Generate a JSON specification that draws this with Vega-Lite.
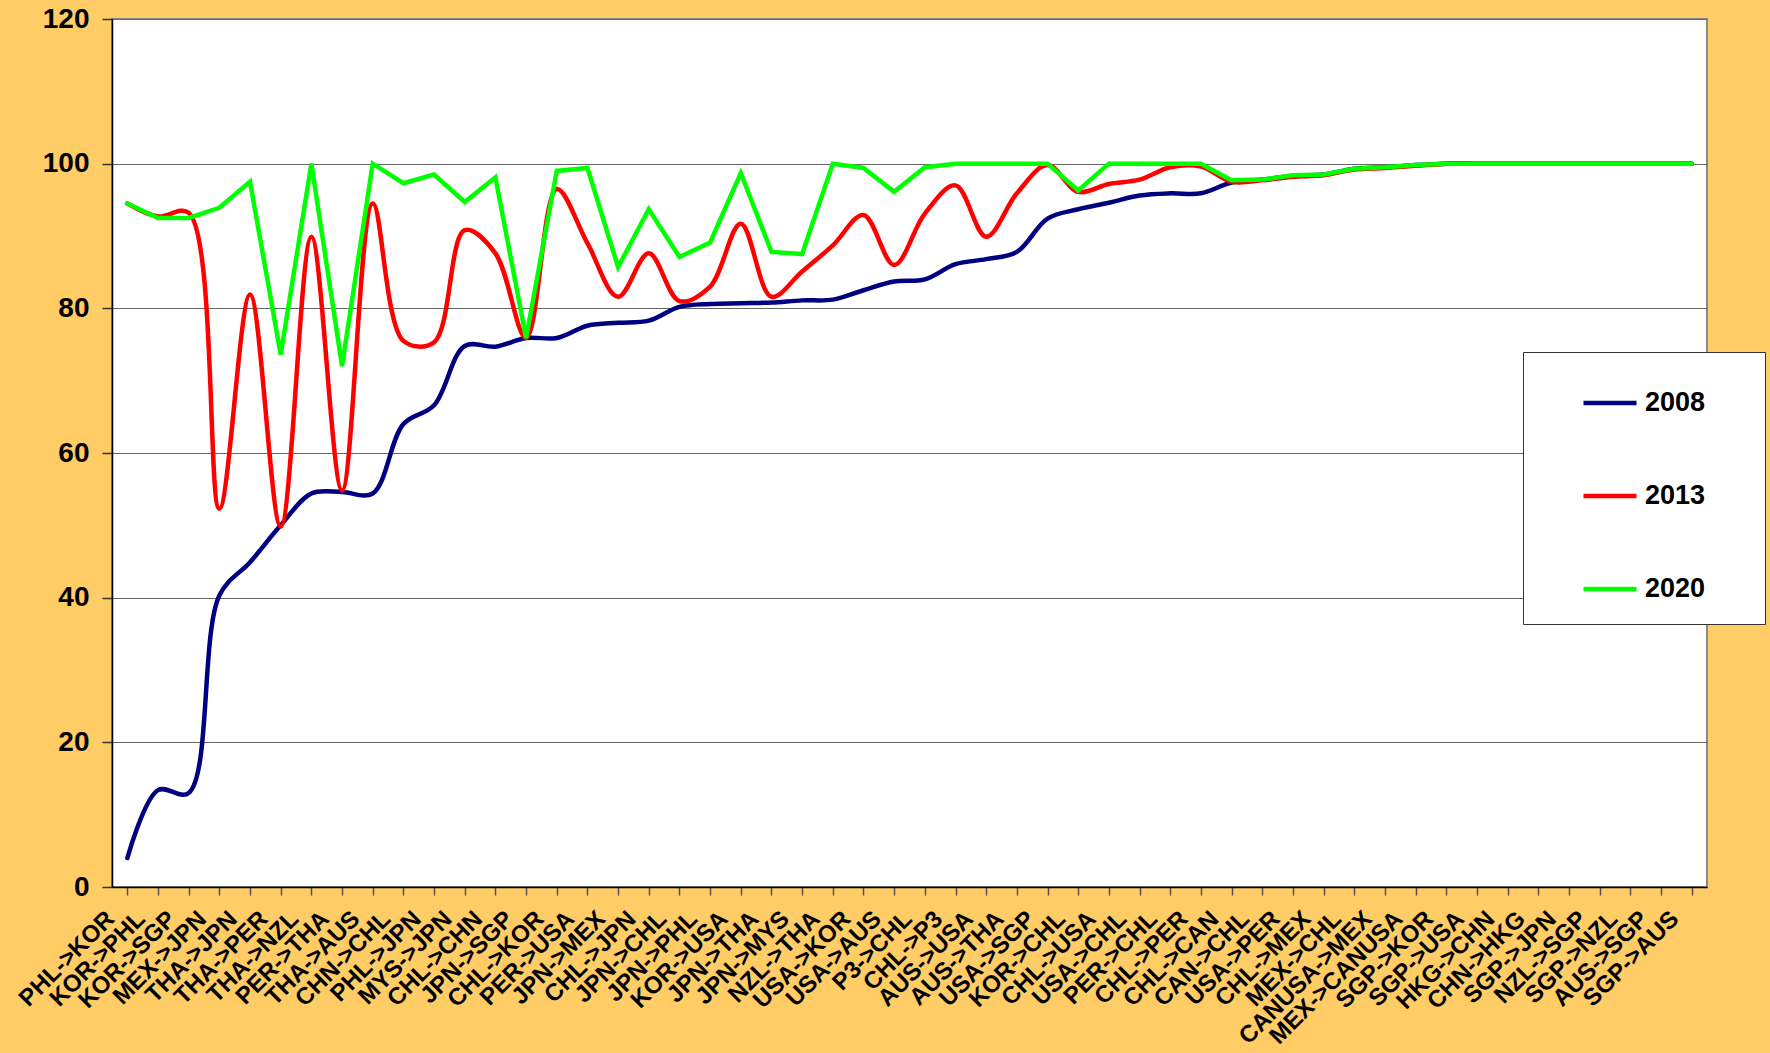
{
  "$schema": "https://vega.github.io/schema/vega-lite/v6.json",
  "width": 1595,
  "height": 868,
  "autosize": {"type": "none"},
  "padding": {"left": 112, "top": 19, "right": 63, "bottom": 166},
  "background": "#FFCC66",
  "config": {
    "view": {"fill": "#FFFFFF", "stroke": "#888888", "strokeWidth": 2},
    "font": "Liberation Sans"
  },
  "data": {
    "values": [
      {"c": "PHL->KOR", "2008": 4.0, "2013": 94.5, "2020": 94.5},
      {"c": "KOR->PHL", "2008": 13.4, "2013": 92.7, "2020": 92.5},
      {"c": "KOR->SGP", "2008": 13.0, "2013": 93.2, "2020": 92.5},
      {"c": "MEX->JPN", "2008": 40.3, "2013": 52.3, "2020": 93.9},
      {"c": "THA->JPN", "2008": 44.9, "2013": 81.9, "2020": 97.5},
      {"c": "THA->PER", "2008": 50.0, "2013": 49.8, "2020": 73.6},
      {"c": "THA->NZL", "2008": 54.4, "2013": 89.9, "2020": 100},
      {"c": "PER->THA", "2008": 54.6, "2013": 54.8, "2020": 72.0},
      {"c": "THA->AUS", "2008": 54.4, "2013": 94.5, "2020": 100},
      {"c": "CHN->CHL", "2008": 64.0, "2013": 75.5, "2020": 97.3},
      {"c": "PHL->JPN", "2008": 66.6, "2013": 75.3, "2020": 98.5},
      {"c": "MYS->JPN", "2008": 74.8, "2013": 90.8, "2020": 94.7},
      {"c": "CHL->CHN", "2008": 74.7, "2013": 87.6, "2020": 98.1},
      {"c": "JPN->SGP", "2008": 75.9, "2013": 75.9, "2020": 75.9},
      {"c": "CHL->KOR", "2008": 75.9, "2013": 96.5, "2020": 99.0},
      {"c": "PER->USA", "2008": 77.6, "2013": 89.0, "2020": 99.4},
      {"c": "JPN->MEX", "2008": 78.0, "2013": 81.6, "2020": 85.7},
      {"c": "CHL->JPN", "2008": 78.3, "2013": 87.6, "2020": 93.7},
      {"c": "JPN->CHL", "2008": 80.2, "2013": 81.0, "2020": 87.1},
      {"c": "JPN->PHL", "2008": 80.6, "2013": 83.0, "2020": 89.1},
      {"c": "KOR->USA", "2008": 80.7, "2013": 91.7, "2020": 98.7},
      {"c": "JPN->THA", "2008": 80.8, "2013": 81.6, "2020": 87.8},
      {"c": "JPN->MYS", "2008": 81.1, "2013": 85.1, "2020": 87.5},
      {"c": "NZL->THA", "2008": 81.2, "2013": 88.7, "2020": 100},
      {"c": "USA->KOR", "2008": 82.5, "2013": 92.9, "2020": 99.4},
      {"c": "USA->AUS", "2008": 83.7, "2013": 86.0, "2020": 96.1},
      {"c": "P3->CHL", "2008": 84.0, "2013": 93.1, "2020": 99.5},
      {"c": "CHL->P3", "2008": 86.1, "2013": 97.0, "2020": 100},
      {"c": "AUS->USA", "2008": 86.8, "2013": 89.9, "2020": 100},
      {"c": "AUS->THA", "2008": 87.8, "2013": 95.9, "2020": 100},
      {"c": "USA->SGP", "2008": 92.4, "2013": 99.8, "2020": 100},
      {"c": "KOR->CHL", "2008": 93.7, "2013": 96.1, "2020": 96.3},
      {"c": "CHL->USA", "2008": 94.6, "2013": 97.2, "2020": 100},
      {"c": "USA->CHL", "2008": 95.6, "2013": 97.8, "2020": 100},
      {"c": "PER->CHL", "2008": 95.9, "2013": 99.5, "2020": 100},
      {"c": "CHL->PER", "2008": 95.9, "2013": 99.6, "2020": 100},
      {"c": "CHL->CAN", "2008": 97.4, "2013": 97.5, "2020": 97.7},
      {"c": "CAN->CHL", "2008": 97.8, "2013": 97.7, "2020": 97.8},
      {"c": "USA->PER", "2008": 98.3, "2013": 98.2, "2020": 98.4},
      {"c": "CHL->MEX", "2008": 98.5, "2013": 98.4, "2020": 98.5},
      {"c": "MEX->CHL", "2008": 99.3, "2013": 99.2, "2020": 99.3},
      {"c": "CANUSA->MEX", "2008": 99.5, "2013": 99.4, "2020": 99.5},
      {"c": "MEX->CANUSA", "2008": 99.8, "2013": 99.7, "2020": 99.8},
      {"c": "SGP->KOR", "2008": 100, "2013": 100, "2020": 100},
      {"c": "SGP->USA", "2008": 100, "2013": 100, "2020": 100},
      {"c": "HKG->CHN", "2008": 100, "2013": 100, "2020": 100},
      {"c": "CHN->HKG", "2008": 100, "2013": 100, "2020": 100},
      {"c": "SGP->JPN", "2008": 100, "2013": 100, "2020": 100},
      {"c": "NZL->SGP", "2008": 100, "2013": 100, "2020": 100},
      {"c": "SGP->NZL", "2008": 100, "2013": 100, "2020": 100},
      {"c": "AUS->SGP", "2008": 100, "2013": 100, "2020": 100},
      {"c": "SGP->AUS", "2008": 100, "2013": 100, "2020": 100}
    ]
  },
  "transform": [
    {"fold": ["2008", "2013", "2020"], "as": ["year", "value"]}
  ],
  "encoding": {
    "x": {
      "field": "c",
      "type": "nominal",
      "sort": null,
      "scale": {"paddingInner": 0, "paddingOuter": 0},
      "axis": {
        "title": null,
        "bandPosition": 0,
        "domainColor": "#000000",
        "domainWidth": 1.5,
        "tickColor": "#555555",
        "tickSize": 8,
        "tickWidth": 1.5,
        "labelAngle": -45,
        "labelAlign": "right",
        "labelBaseline": "middle",
        "labelFont": "Liberation Sans",
        "labelFontSize": 24,
        "labelFontWeight": "bold",
        "labelColor": "#000000",
        "labelPadding": 20,
        "labelOffset": -17,
        "labelOverlap": false,
        "labelBound": false,
        "labelLimit": 400
      }
    },
    "y": {
      "field": "value",
      "type": "quantitative",
      "scale": {"domain": [0, 120], "nice": false, "zero": true},
      "axis": {
        "title": null,
        "values": [0, 20, 40, 60, 80, 100, 120],
        "grid": true,
        "gridColor": "#666666",
        "gridWidth": 1,
        "domainColor": "#000000",
        "domainWidth": 1.5,
        "tickColor": "#333333",
        "tickSize": 10,
        "tickWidth": 1.5,
        "labelFont": "Liberation Sans",
        "labelFontSize": 28,
        "labelFontWeight": "bold",
        "labelColor": "#000000",
        "labelPadding": 13
      }
    },
    "color": {
      "field": "year",
      "type": "nominal",
      "scale": {"domain": ["2008", "2013", "2020"], "range": ["#000080", "#FF0000", "#00FF00"]},
      "legend": {
        "title": "\u00a0",
        "titleOrient": "right",
        "titleAngle": 0,
        "titlePadding": 38,
        "titleFontSize": 26,
        "orient": "none",
        "legendX": 1411,
        "legendY": 333,
        "fillColor": "#FFFFFF",
        "strokeColor": "#333333",
        "padding": 22,
        "rowPadding": 51,
        "symbolType": "stroke",
        "symbolSize": 2809,
        "symbolStrokeWidth": 4.5,
        "symbolOffset": 36,
        "labelOffset": 6,
        "labelFont": "Liberation Sans",
        "labelFontSize": 27,
        "labelFontWeight": "bold",
        "labelColor": "#000000"
      }
    }
  },
  "layer": [
    {
      "transform": [{"filter": "datum.year != '2020'"}],
      "mark": {"type": "line", "interpolate": "catmull-rom", "strokeWidth": 4.5, "strokeCap": "round", "strokeJoin": "round"}
    },
    {
      "transform": [{"filter": "datum.year == '2020'"}],
      "mark": {"type": "line", "strokeWidth": 4.5, "strokeCap": "round"}
    }
  ]
}
